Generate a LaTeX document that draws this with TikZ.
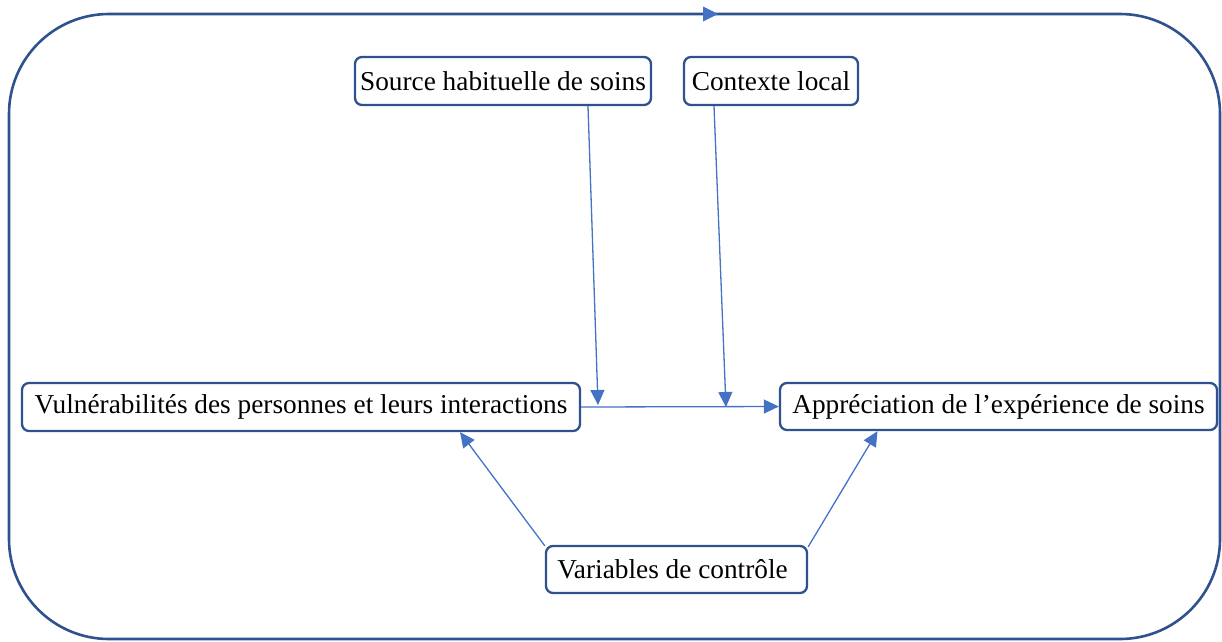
\documentclass[tikz,border=0pt]{standalone}
\usepackage{fontspec}
\setmainfont{Liberation Serif}
\usetikzlibrary{arrows.meta,calc}
\definecolor{boxblue}{HTML}{2F528F}
\definecolor{arrblue}{HTML}{4472C4}
\tikzset{
  box/.style={draw=boxblue, line width=2.3pt, rounded corners=7pt, fill=white,
    minimum height=48pt, inner sep=0pt, align=center,
    font=\fontsize{27.3}{30}\selectfont},
  conn/.style={draw=arrblue, line width=1.3pt,
    -{Triangle[length=15pt,width=14pt]}},
  outer/.style={draw=boxblue, line width=2.6pt, rounded corners=100pt}
}
\begin{document}
\begin{tikzpicture}[x=1pt,y=-1pt]
\useasboundingbox (0,0) rectangle (1222,641);
\draw[outer] (712,14) -- (1220,14) -- (1220,639) -- (9,639) -- (9,14) -- (712,14);
\fill[arrblue] (718,14) -- (703,6.5) -- (703,21.5) -- cycle;

\node[box, minimum width=296pt] (src) at (503,81) {Source habituelle de soins};
\node[box, minimum width=174pt] (ctx) at (771,81) {Contexte local};
\node[box, minimum width=558pt] (vul) at (301,407) {Vulnérabilités des personnes et leurs interactions};
\node[box, minimum width=437pt, minimum height=47pt] (app) at (998.5,406.5) {Appréciation de l’expérience de soins};
\node[box, minimum width=261pt, minimum height=47pt] (var) at (676.5,569.5) {Variables de contrôle\hspace*{8pt}};

\coordinate (j1) at (598,405);
\coordinate (j2) at (726,407);

\draw[conn] (vul.east) -- (app.west);
\draw[conn] ([xshift=85pt]src.south) -- (j1);
\draw[conn] ([xshift=-57pt]ctx.south) -- (j2);
\draw[conn] ([yshift=-1pt]var.north west) -- ([xshift=159pt]vul.south);
\draw[conn] ([yshift=-2pt]var.north east) -- ([xshift=-121pt]app.south);
\end{tikzpicture}
\end{document}
